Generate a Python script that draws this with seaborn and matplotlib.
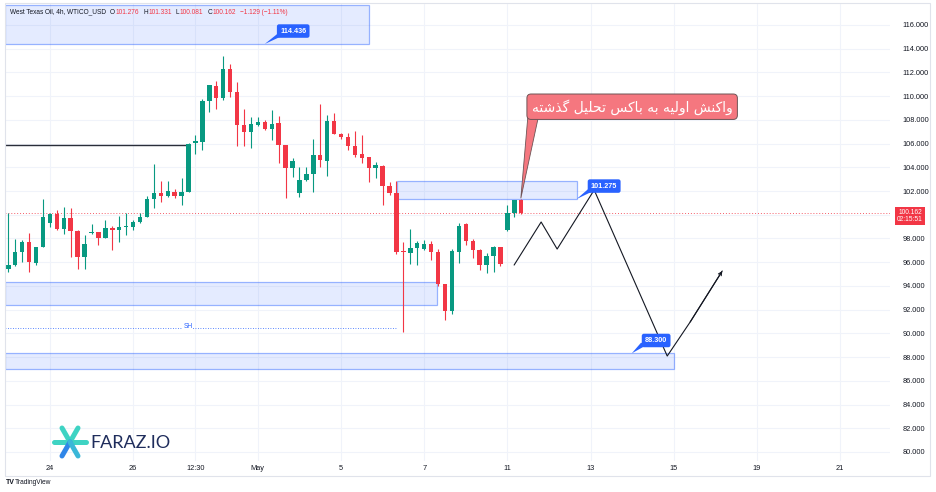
import numpy as np
import matplotlib
matplotlib.use('Agg')
import matplotlib.pyplot as plt
from matplotlib.patches import Rectangle, Polygon
from matplotlib.lines import Line2D
import seaborn as sns

sns.set_style('white')
plt.rcParams['font.family'] = ['Liberation Sans', 'DejaVu Sans']

# __ 4h candles, WTICO_USD __
opens = [95.43, 95.76, 96.89, 97.73, 95.96, 97.25, 99.28, 100.04, 98.80, 99.76,
         98.66, 96.47, 98.43, 98.57, 98.01, 98.91, 98.72, 99.00, 99.00, 99.42,
         99.84, 101.33, 101.81, 101.58, 101.95, 101.58, 101.89, 106.02, 106.16, 109.62,
         110.86, 109.82, 112.29, 110.38, 107.57, 107.01, 107.57, 107.85, 107.20, 107.71,
         105.88, 103.92, 101.81, 102.93, 103.44, 105.04, 104.56, 107.91, 106.81, 106.59,
         105.83, 105.10, 104.90, 103.92, 104.14, 102.45, 101.86, 96.94, 96.80, 97.23,
         97.09, 97.51, 96.89, 94.16, 91.91, 96.89, 99.22, 97.82, 97.03, 95.76,
         96.52, 97.31, 98.72, 100.18, 101.28]
closes = [95.76, 96.89, 97.73, 95.99, 97.25, 99.84, 100.04, 98.80, 99.76, 98.66,
          96.47, 97.51, 98.57, 98.07, 98.91, 98.72, 99.00, 99.08, 99.42, 99.84,
          101.33, 101.81, 101.61, 102.03, 101.61, 101.89, 105.94, 106.22, 109.62, 110.94,
          109.82, 112.26, 110.38, 107.57, 107.01, 107.65, 107.85, 107.20, 107.65, 105.88,
          103.92, 104.53, 102.93, 103.44, 105.04, 104.62, 107.91, 106.81, 106.53, 105.83,
          105.04, 104.81, 103.92, 104.20, 102.45, 101.86, 96.89, 96.83, 97.23, 97.59,
          97.54, 96.89, 94.16, 91.89, 96.94, 99.05, 97.82, 97.03, 95.76, 96.52,
          97.31, 95.85, 100.18, 101.25, 100.16]
highs = [100.12, 97.96, 97.87, 98.49, 97.31, 101.30, 100.18, 100.40, 100.68, 100.54,
         98.72, 98.29, 99.22, 98.57, 99.56, 99.08, 99.92, 100.12, 99.56, 100.12,
         101.61, 104.28, 102.85, 102.85, 102.14, 103.13, 106.02, 106.73, 109.73, 110.94,
         111.31, 113.39, 112.71, 111.22, 108.89, 108.27, 108.27, 107.99, 108.83, 108.36,
         105.88, 104.81, 104.06, 104.06, 106.39, 109.31, 108.41, 108.55, 106.87, 106.87,
         107.06, 106.73, 104.90, 104.48, 104.20, 102.73, 102.85, 97.73, 98.80, 97.82,
         97.87, 97.79, 97.11, 94.16, 97.11, 99.33, 99.33, 97.93, 97.11, 96.75,
         97.37, 97.31, 100.82, 101.25, 101.33]
lows = [95.20, 95.68, 96.05, 95.15, 95.76, 97.25, 99.00, 98.72, 98.38, 96.41,
        95.40, 95.43, 98.38, 97.45, 98.01, 97.03, 97.73, 98.29, 98.72, 99.33,
        99.84, 100.54, 101.10, 101.53, 101.39, 100.82, 101.89, 105.12, 105.46, 108.69,
        108.89, 109.68, 109.96, 105.83, 105.83, 105.60, 107.48, 107.15, 106.30, 104.34,
        101.39, 103.21, 101.47, 102.88, 101.89, 104.06, 103.30, 106.81, 106.36, 105.46,
        104.90, 104.34, 102.73, 103.07, 100.82, 101.67, 96.66, 90.10, 95.82, 95.76,
        97.03, 96.19, 94.02, 91.13, 91.60, 95.90, 97.45, 96.33, 95.34, 95.06,
        95.20, 95.68, 98.63, 99.84, 100.08]

tick_pos = [6, 18, 27, 36, 48, 60, 72, 84, 96, 108, 120]
tick_labels = ['24', '26', '12:30', 'May', '5', '7', '11', '13', '15', '19', '21']
price_ticks = list(range(80, 117, 2))

last_price = 100.162
last_ohlc = ['101.276', '101.331', '100.081', '100.162']
last_change = '\u22121.129 (\u22121.11%)'
countdown = '02:15:51'

# drawings: zones (x0, x1, low, high), labels, lines
zones = [(-0.5, 52.05, 114.40, 117.69),
         (56.1, 82.1, 101.33, 102.85),
         (-0.5, 61.9, 92.39, 94.33),
         (-0.5, 96.06, 86.99, 88.34)]
zone_labels = [('114.436', 41.1, 115.49, 37.0, 114.40),
               ('101.275', 85.96, 102.42, 82.0, 101.33),
               ('88.300', 93.46, 89.40, 89.95, 88.32)]
hline_level, hline_end = 105.88, 26.2
sh_level, sh_end = 90.45, 56.1
path_x = [72.97, 76.87, 79.18, 84.52, 95.06, 98.37, 103.0]
path_y = [95.76, 99.39, 97.11, 102.09, 88.09, 90.96, 95.26]
note_text = 'واکنش اولیه به باکس تحلیل گذشته'
note_xy = (90.0, 109.11)
note_tip = (73.94, 101.39)

GREEN = '#089981'
RED = '#f23645'
BLUE = '#2962ff'
DARK = '#131722'

# minimal persian shaping (matplotlib has no arabic shaping / bidi)
FORMS = {  # isolated, final, initial, medial
    'ا': ('\uFE8D', '\uFE8E', None, None),
    'ب': ('\uFE8F', '\uFE90', '\uFE91', '\uFE92'),
    'ت': ('\uFE95', '\uFE96', '\uFE97', '\uFE98'),
    'ح': ('\uFEA1', '\uFEA2', '\uFEA3', '\uFEA4'),
    'ذ': ('\uFEAB', '\uFEAC', None, None),
    'س': ('\uFEB1', '\uFEB2', '\uFEB3', '\uFEB4'),
    'ش': ('\uFEB5', '\uFEB6', '\uFEB7', '\uFEB8'),
    'ل': ('\uFEDD', '\uFEDE', '\uFEDF', '\uFEE0'),
    'ن': ('\uFEE5', '\uFEE6', '\uFEE7', '\uFEE8'),
    'ه': ('\uFEE9', '\uFEEA', '\uFEEB', '\uFEEC'),
    'و': ('\uFEED', '\uFEEE', None, None),
    '\u06A9': ('\uFB8E', '\uFB8F', '\uFB90', '\uFB91'),
    '\u06AF': ('\uFB92', '\uFB93', '\uFB94', '\uFB95'),
    '\u06CC': ('\uFBFC', '\uFBFD', '\uFBFE', '\uFBFF'),
}


def shape_fa(s):
    s = s.replace('\u0643', '\u06A9').replace('\u064A', '\u06CC')
    out = []
    for i, ch in enumerate(s):
        if ch not in FORMS:
            out.append(ch)
            continue
        prev = s[i - 1] if i > 0 else ''
        nxt = s[i + 1] if i + 1 < len(s) else ''
        jp = prev in FORMS and FORMS[prev][2] is not None
        jn = nxt in FORMS and FORMS[ch][2] is not None
        iso, fin, ini, med = FORMS[ch]
        if jp and jn:
            out.append(med)
        elif jp:
            out.append(fin)
        elif jn:
            out.append(ini)
        else:
            out.append(iso)
    return ''.join(reversed(out))


W, H = 936, 492
fig = plt.figure(figsize=(W / 100, H / 100), dpi=100)
ax = fig.add_axes([5 / W, 1 - 461 / H, 885 / W, 457 / H])
ax.set_xlim(-0.48, 127.2)
ax.set_ylim(79.24, 117.77)
for s in ax.spines.values():
    s.set_visible(False)

# grid
for v in price_ticks:
    ax.axhline(v, color='#f0f3fa', lw=0.8, zorder=0)
for v in tick_pos:
    ax.axvline(v, color='#f0f3fa', lw=0.8, zorder=0)

# zones
for x0, x1, lo, hi in zones:
    ax.add_patch(Rectangle((x0, lo), x1 - x0, hi - lo, facecolor=(0.16, 0.38, 1.0, 0.12),
                           edgecolor=(0.16, 0.38, 1.0, 0.45), lw=0.9, zorder=1))

# candles
o = np.array(opens); c = np.array(closes)
idx = np.arange(len(o))
cols = np.where(c >= o, GREEN, RED)
ax.vlines(idx, lows, highs, colors=cols, lw=0.8, zorder=3)
ax.bar(idx, np.maximum(np.abs(c - o), 0.07), bottom=np.minimum(o, c), width=0.64,
       color=cols, linewidth=0, zorder=4)

# lines
sns.lineplot(x=[-0.5, hline_end], y=[hline_level, hline_level], color='#2a2e39', lw=1.0, ax=ax)
ax.axhline(last_price, color=RED, lw=0.7, ls=(0, (1, 2)), alpha=0.8, zorder=2)
ax.plot([-0.5, sh_end], [sh_level, sh_level], color=BLUE, lw=0.6, ls=(0, (1, 2)), zorder=2)
ax.text(25.9, sh_level + 0.12, 'SH', color=BLUE, fontsize=4.8, ha='center', va='center',
        bbox=dict(boxstyle='square,pad=0.1', fc='white', ec='none'))
sns.lineplot(x=path_x, y=path_y, sort=False, estimator=None, color=DARK, lw=0.8, ax=ax, zorder=5)
ax.annotate('', xy=(path_x[-1], path_y[-1]), xytext=(path_x[-2], path_y[-2]),
            arrowprops=dict(arrowstyle='->', color=DARK, lw=0.8, shrinkA=0, shrinkB=0,
                            mutation_scale=6), zorder=5)

# zone labels (blue callouts)
for txt, cx, cy, tx, ty in zone_labels:
    ax.add_patch(Polygon([(tx, ty), (cx - 2.2, cy - 0.2), (cx - 0.8, cy - 0.2)],
                         closed=True, color=BLUE, lw=0, zorder=6))
    ax.text(cx, cy, txt, color='white', fontsize=5.2, fontweight='bold', ha='center', va='center',
            zorder=7, bbox=dict(boxstyle='round,pad=0.45,rounding_size=0.3', fc=BLUE, ec='none'))

# red note callout
ax.add_patch(Polygon([note_tip, (75.0, 108.6), (76.6, 108.6)], closed=True,
                     fc='#f5777f', ec='#6e5456', lw=0.6, zorder=6))
ax.text(note_xy[0], note_xy[1], shape_fa(note_text), color='white', fontsize=10,
        family=['DejaVu Sans'], ha='center', va='center', zorder=7,
        bbox=dict(boxstyle='round,pad=0.35,rounding_size=0.3', fc='#f5777f', ec='#6e5456', lw=0.7))

# axes ticks (the 100.000 label sits under the last-price tag)
ax.yaxis.tick_right()
ax.set_yticks(price_ticks)
ax.set_yticklabels(['' if v == 100 else f'{v:.3f}' for v in price_ticks])
ax.set_xticks(tick_pos)
ax.set_xticklabels(tick_labels)
ax.tick_params(axis='y', length=0, pad=9, labelsize=5.3, labelcolor=DARK)
ax.tick_params(axis='x', length=0, pad=3, labelsize=5.3, labelcolor=DARK)

# last price tag
ax.text(1.0 + 20 / 885, last_price - 0.25, f'{last_price:.3f}\n{countdown}', transform=ax.get_yaxis_transform(),
        color='white', fontsize=4.8, ha='center', va='center', linespacing=1.1, clip_on=False,
        bbox=dict(boxstyle='square,pad=0.3', fc=RED, ec='none'), zorder=8)

# frame
fig.add_artist(Rectangle((5 / W, 1 - 476 / H), 925 / W, 473 / H, transform=fig.transFigure,
                         fill=False, ec='#e0e3eb', lw=0.8))

# header legend
fig.canvas.draw()
r = fig.canvas.get_renderer()
parts = [('West Texas Oil, 4h, WTICO_USD', DARK, 4)]
for letter, val in zip('OHLC', last_ohlc):
    parts += [(letter, DARK, 0.5), (val, RED, 4)]
parts += [(last_change, RED, 0)]
xp = 10
for s, col, gap in parts:
    t = fig.text(xp / W, 1 - 12 / H, s, color=col, fontsize=4.7, ha='left', va='center')
    xp = t.get_window_extent(r).x1 + gap

# FARAZ.IO logo
cx, cy = 70, 442
for (x0, y0, x1, y1), col in [((54, cy, 86, cy), '#3ed3c3'), ((62, 428, 70, cy), '#3ed3c3'),
                              ((78, 428, 70, cy), '#3ed3c3'), ((70, cy, 62, 456), '#2f86e8'),
                              ((70, cy, 78, 456), '#3ab7d8')]:
    fig.add_artist(Line2D([x0 / W, x1 / W], [1 - y0 / H, 1 - y1 / H], transform=fig.transFigure,
                          color=col, lw=3.6, solid_capstyle='round'))
fig.text(90 / W, 1 - 443 / H, 'FARAZ.IO', color='#1f2d5c', fontsize=13, family=['Lato', 'DejaVu Sans'],
         ha='left', va='center')

# footer
fig.text(6 / W, 1 - 483 / H, 'TV', color=DARK, fontsize=5, fontweight='bold', ha='left', va='center')
fig.text(15 / W, 1 - 483 / H, 'TradingView', color=DARK, fontsize=4.8, ha='left', va='center')

fig.savefig('out.png', dpi=100)
